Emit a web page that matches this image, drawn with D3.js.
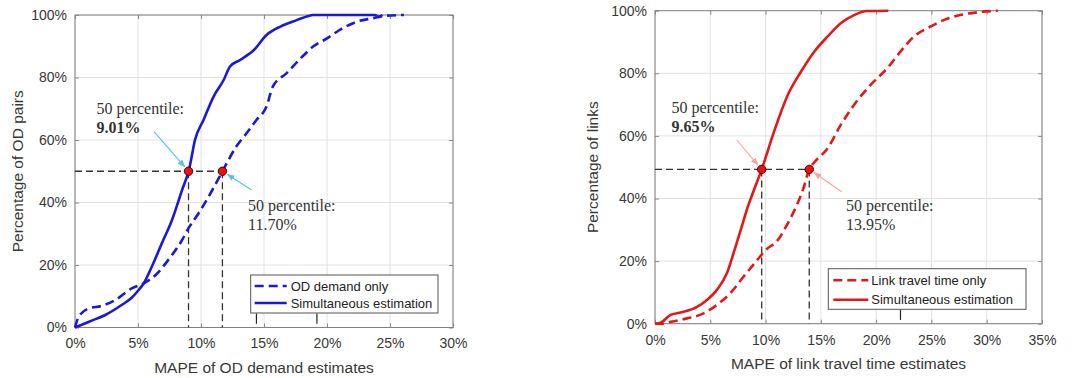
<!DOCTYPE html>
<html>
<head>
<meta charset="utf-8">
<script src="https://cdn.jsdelivr.net/npm/d3@7"></script>
<style>
  html, body { margin: 0; padding: 0; background: #fff; }
  svg { display: block; }
  text { font-family: "Liberation Sans", Arial, sans-serif; }
</style>
</head>
<body>
<svg id="chart" width="1073" height="378"></svg>
<script>
// ---------------- DATA ----------------
// Left panel: OD demand
const odTicksX = [0, 5, 10, 15, 20, 25, 30];
const odSimX = [0, 0.5, 1.2, 2.4, 3.7, 4.5, 5.05, 5.45, 6.1, 6.9, 7.7, 8.5, 9.01, 9.13, 9.52, 10.2, 11, 11.8, 12.3, 13.1, 14.2, 15.2, 16.3, 17.3, 18.4, 18.9, 20, 23.8, 24.1, 24.4];
const odSimY = [0, 0.8, 2, 4, 7.2, 9.5, 12, 14.1, 19.5, 27, 34.4, 44, 50, 52, 60, 66.4, 73.9, 79.2, 83.5, 85.6, 88.8, 93.6, 96.3, 97.9, 99.5, 100, 100, 100, 99.4, 100];
const odOnlyX = [0, 0.3, 1.1, 2.1, 3.2, 4.5, 5.45, 6.4, 7.4, 8.5, 9, 9.8, 10.9, 11.7, 12.8, 13.6, 14.4, 15.2, 15.7, 16.8, 17.9, 18.9, 20, 21, 22.4, 23.7, 24.5, 26.1];
const odOnlyY = [0, 3.5, 6.1, 6.9, 8.8, 12.5, 14.1, 16.8, 21.6, 28, 31.7, 36.5, 44, 50, 57.9, 62.1, 66.4, 70.7, 77.1, 81.4, 86.1, 89.9, 92.5, 95.2, 97.9, 99, 99.7, 100];
const odMedians = [9.01, 11.70];
const odMedianLevel = 50;
const odStray = [14.4, 19.2];

// Right panel: link travel time
const ttTicksX = [0, 5, 10, 15, 20, 25, 30, 35];
const ttSimX = [0, 0.5, 1.4, 2.6, 3.8, 4.7, 5.6, 6.5, 7.1, 7.75, 8.4, 8.95, 9.65, 10.76, 12, 13.2, 14.4, 15.6, 16.8, 18, 19.2, 21.1];
const ttSimY = [0, 0.3, 2.8, 3.8, 5.4, 7.6, 10.8, 16.1, 22.5, 29.9, 37.4, 42.7, 49.3, 61.3, 73, 80.5, 86.9, 91.7, 96, 98.6, 99.9, 100];
const ttOnlyX = [0, 0.6, 1.4, 2.9, 4.4, 5.6, 6.8, 8, 9.26, 10, 11.1, 12, 12.9, 13.4, 13.95, 14.4, 15.6, 16.8, 18, 19.5, 21, 22.2, 23.4, 24.9, 26.1, 27.6, 29.2, 31];
const ttOnlyY = [0, 0, 0.6, 1.7, 3.3, 6, 9.7, 15, 20.4, 23.5, 26.7, 32, 38.5, 43, 49.3, 51.5, 56, 63.5, 69.9, 76.3, 81.6, 86.9, 91.7, 94.9, 97, 98.6, 99.5, 100];
const ttMedians = [9.65, 13.95];
const ttMedianLevel = 49.3;
const ttStray = [22.2];

const ticksY = [0, 20, 40, 60, 80, 100];

// ---------------- DRAW ----------------
const svg = d3.select("#chart");
const defs = svg.append("defs");

function zip(xs, ys) { return xs.map((x, i) => [x, ys[i]]); }

function drawPanel(cfg) {
  const x = d3.scaleLinear().domain([0, cfg.xMax]).range([cfg.left, cfg.right]);
  const y = d3.scaleLinear().domain([0, 100]).range([cfg.bottom, cfg.top]);
  const g = svg.append("g");

  g.append("rect").attr("x", cfg.left).attr("y", cfg.top)
    .attr("width", cfg.right - cfg.left).attr("height", cfg.bottom - cfg.top)
    .attr("fill", "#fff");

  // grid
  g.append("g").selectAll("line").data(cfg.ticksX).join("line")
    .attr("x1", d => x(d)).attr("x2", d => x(d))
    .attr("y1", cfg.top).attr("y2", cfg.bottom)
    .attr("stroke", "#e2e2e2").attr("stroke-width", 1);
  g.append("g").selectAll("line").data(ticksY).join("line")
    .attr("y1", d => y(d)).attr("y2", d => y(d))
    .attr("x1", cfg.left).attr("x2", cfg.right)
    .attr("stroke", "#e2e2e2").attr("stroke-width", 1);

  // axes
  const fmt = d => d + "%";
  const xAxis = g.append("g").attr("transform", `translate(0,${cfg.bottom})`)
    .call(d3.axisBottom(x).tickValues(cfg.ticksX).tickFormat(fmt).tickSizeInner(-4).tickSizeOuter(0).tickPadding(11));
  const xAxisTop = g.append("g").attr("transform", `translate(0,${cfg.top})`)
    .call(d3.axisTop(x).tickValues(cfg.ticksX).tickFormat("").tickSizeInner(-4).tickSizeOuter(0));
  const yAxis = g.append("g").attr("transform", `translate(${cfg.left},0)`)
    .call(d3.axisLeft(y).tickValues(ticksY).tickFormat(fmt).tickSizeInner(-4).tickSizeOuter(0).tickPadding(8));
  const yAxisR = g.append("g").attr("transform", `translate(${cfg.right},0)`)
    .call(d3.axisRight(y).tickValues(ticksY).tickFormat("").tickSizeInner(-4).tickSizeOuter(0));
  [xAxis, xAxisTop, yAxis, yAxisR].forEach(a => {
    a.select(".domain").remove();
    a.selectAll(".tick line").attr("stroke", "#8a8a8a");
    a.selectAll("text").attr("fill", "#383838").style("font-size", "14px")
      .style("font-family", "'Liberation Sans', Arial, sans-serif");
  });
  xAxis.selectAll("text").attr("dy", "0.71em");

  // frame
  g.append("rect").attr("x", cfg.left).attr("y", cfg.top)
    .attr("width", cfg.right - cfg.left).attr("height", cfg.bottom - cfg.top)
    .attr("fill", "none").attr("stroke", "#808080").attr("stroke-width", 1);

  // axis labels
  g.append("text").attr("x", (cfg.left + cfg.right) / 2).attr("y", cfg.bottom + 45)
    .attr("text-anchor", "middle").attr("fill", "#383838").style("font-size", "15.5px")
    .text(cfg.xLabel);
  g.append("text")
    .attr("transform", `translate(${cfg.yLabelX},${(cfg.top + cfg.bottom) / 2}) rotate(-90)`)
    .attr("text-anchor", "middle").attr("dy", "0.35em").attr("fill", "#383838").style("font-size", "15.5px")
    .text(cfg.yLabel);

  // stray small marks
  g.append("g").selectAll("line").data(cfg.stray).join("line")
    .attr("x1", d => x(d)).attr("x2", d => x(d))
    .attr("y1", y(4.5)).attr("y2", y(1.2))
    .attr("stroke", "#222").attr("stroke-width", 1.2);

  // annotation dashed lines
  const lvl = cfg.medLevel;
  const ann = g.append("g").attr("stroke", "#333").attr("stroke-width", 1.3)
    .attr("stroke-dasharray", "7,4").attr("fill", "none");
  ann.append("line").attr("x1", x(0)).attr("x2", x(d3.max(cfg.medians)))
    .attr("y1", y(lvl)).attr("y2", y(lvl));
  ann.selectAll("line.v").data(cfg.medians).join("line").attr("class", "v")
    .attr("x1", d => x(d)).attr("x2", d => x(d))
    .attr("y1", y(lvl)).attr("y2", y(0));

  // curves
  const line = d3.line().x(d => x(d[0])).y(d => y(d[1])).curve(d3.curveMonotoneX);
  g.append("path").datum(zip(cfg.onlyX, cfg.onlyY)).attr("d", line)
    .attr("fill", "none").attr("stroke", cfg.color).attr("stroke-width", 2.6)
    .attr("stroke-dasharray", "9,5").attr("stroke-linejoin", "round");
  g.append("path").datum(zip(cfg.simX, cfg.simY)).attr("d", line)
    .attr("fill", "none").attr("stroke", cfg.color).attr("stroke-width", 2.6)
    .attr("stroke-linejoin", "round");

  // arrows
  const mid = "ah" + cfg.id;
  defs.append("marker").attr("id", mid).attr("viewBox", "0 0 10 10")
    .attr("refX", 9).attr("refY", 5).attr("markerWidth", 7).attr("markerHeight", 7)
    .attr("orient", "auto")
    .append("path").attr("d", "M0,1 L10,5 L0,9 Z").attr("fill", cfg.arrowColor);
  cfg.arrows.forEach((a, i) => {
    const px = x(cfg.medians[i]), py = y(lvl);
    const dx = px - a[0], dy = py - a[1], len = Math.hypot(dx, dy);
    const ex = px - dx / len * 6, ey = py - dy / len * 6;
    g.append("line").attr("x1", a[0]).attr("y1", a[1]).attr("x2", ex).attr("y2", ey)
      .attr("stroke", cfg.arrowColor).attr("stroke-width", 1.1)
      .attr("marker-end", `url(#${mid})`);
  });

  // median markers
  g.append("g").selectAll("circle").data(cfg.medians).join("circle")
    .attr("cx", d => x(d)).attr("cy", y(lvl)).attr("r", 4.2)
    .attr("fill", "#ee1111").attr("stroke", "#4a0000").attr("stroke-width", 1);

  // annotation texts
  cfg.notes.forEach((n, i) => {
    const t = g.append("text").attr("x", n[0]).attr("y", n[1])
      .attr("fill", "#333").style("font-size", "16px")
      .style("font-family", "'Liberation Serif', 'Times New Roman', serif");
    t.append("tspan").attr("x", n[0]).text("50 percentile:");
    t.append("tspan").attr("x", n[0]).attr("dy", 19)
      .attr("font-weight", i === 0 ? "bold" : "normal")
      .text(cfg.medians[i].toFixed(2) + "%");
  });

  // legend
  const L = cfg.legend;
  const lg = g.append("g");
  lg.append("rect").attr("x", L.x).attr("y", L.y).attr("width", L.w).attr("height", L.h)
    .attr("fill", "#fff").attr("stroke", "#555").attr("stroke-width", 1);
  const items = [{ label: cfg.onlyLabel, dash: "9,5" }, { label: "Simultaneous estimation", dash: null }];
  items.forEach((it, i) => {
    const cy = L.y + L.rowY[i];
    lg.append("line").attr("x1", L.x + L.s0).attr("x2", L.x + L.s1)
      .attr("y1", cy).attr("y2", cy).attr("stroke", cfg.color).attr("stroke-width", 2.6)
      .attr("stroke-dasharray", it.dash);
    lg.append("text").attr("x", L.x + L.tx).attr("y", cy).attr("dy", "0.35em")
      .attr("fill", "#222").style("font-size", "13px").text(it.label);
  });
}

drawPanel({
  id: "L", left: 75, right: 453, top: 15, bottom: 327.5, xMax: 30,
  ticksX: odTicksX, color: "#1a1ad2", arrowColor: "#55c2ec",
  xLabel: "MAPE of OD demand estimates", yLabel: "Percentage of OD pairs", yLabelX: 18,
  simX: odSimX, simY: odSimY, onlyX: odOnlyX, onlyY: odOnlyY,
  onlyLabel: "OD demand only",
  medians: odMedians, medLevel: odMedianLevel, stray: odStray,
  arrows: [[154, 131.7], [251.7, 190]],
  notes: [[96.5, 114], [248, 211]],
  legend: { x: 250.7, y: 275, w: 187.3, h: 38, rowY: [11, 28], s0: 4, s1: 36, tx: 40 }
});

drawPanel({
  id: "R", left: 655, right: 1042, top: 10.7, bottom: 323.7, xMax: 35,
  ticksX: ttTicksX, color: "#e31919", arrowColor: "#f4a3a3",
  xLabel: "MAPE of link travel time estimates", yLabel: "Percentage of links", yLabelX: 593,
  simX: ttSimX, simY: ttSimY, onlyX: ttOnlyX, onlyY: ttOnlyY,
  onlyLabel: "Link travel time only",
  medians: ttMedians, medLevel: ttMedianLevel, stray: ttStray,
  arrows: [[736.7, 140], [841.7, 191.7]],
  notes: [[671.5, 113], [846, 211]],
  legend: { x: 828.3, y: 268.7, w: 197.7, h: 40.6, rowY: [11.5, 31], s0: 5, s1: 40, tx: 43 }
});
</script>
</body>
</html>
